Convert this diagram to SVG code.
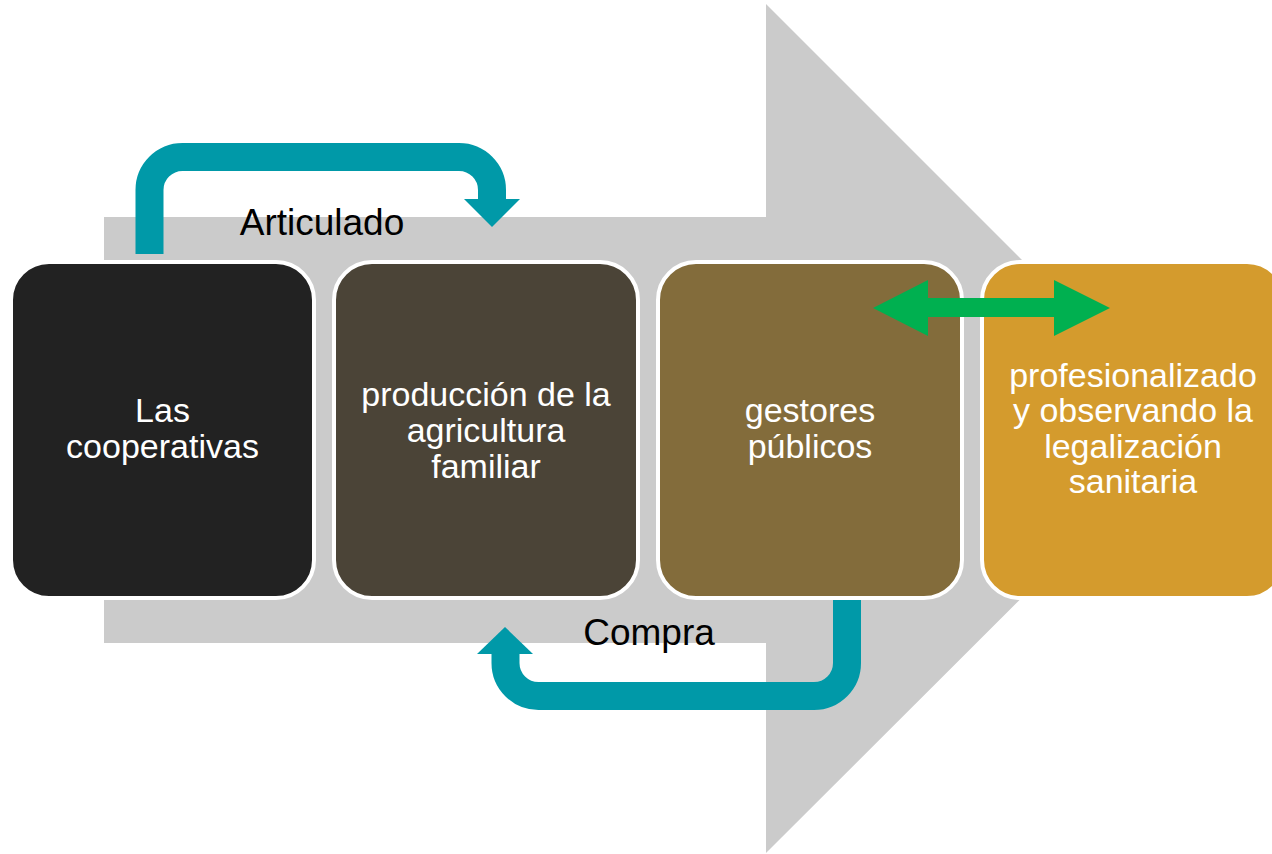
<svg xmlns="http://www.w3.org/2000/svg" width="1272" height="854" viewBox="0 0 1272 854">
<style>
.box{stroke:#fff;stroke-width:4}
.t{font-family:"Liberation Sans",Arial,sans-serif;font-size:34px;fill:#fff;text-anchor:middle}
.lbl{font-family:"Liberation Sans",Arial,sans-serif;font-size:37px;fill:#000;text-anchor:middle}
.teal{fill:none;stroke:#0099A8;stroke-width:28}
</style>
<rect width="1272" height="854" fill="#fff"/>
<g id="background-arrow">
<polygon points="104,217 766,217 766,4 1191,429 766,853 766,643 104,643" fill="#CBCBCB"/>
</g>
<g id="connectors">
<path class="teal" d="M149.5,254 V190 A33,33 0 0 1 182.5,157 H459 A33,33 0 0 1 492,190 V200"/>
<polygon points="464,199 520,199 492,227" fill="#0099A8"/>
<path class="teal" d="M847,592 V663 A33,33 0 0 1 814,696 H538.5 A33,33 0 0 1 505.5,663 V653"/>
<polygon points="477,654 533,654 505,627" fill="#0099A8"/>
</g>
<g id="labels">
<text class="lbl" x="322" y="235">Articulado</text>
<text class="lbl" x="649" y="645">Compra</text>
</g>
<g id="node1">
<rect class="box" x="11" y="262" width="303" height="336" rx="38" fill="#222222"/>
<text class="t" x="162.5" y="422">Las</text>
<text class="t" x="162.5" y="458">cooperativas</text>
</g>
<g id="node2">
<rect class="box" x="334" y="262" width="304" height="336" rx="38" fill="#4B4437"/>
<text class="t" x="486" y="406">producción de la</text>
<text class="t" x="486" y="442">agricultura</text>
<text class="t" x="486" y="478">familiar</text>
</g>
<g id="node3">
<rect class="box" x="658" y="262" width="304" height="336" rx="38" fill="#836C3B"/>
<text class="t" x="810" y="422">gestores</text>
<text class="t" x="810" y="458">públicos</text>
</g>
<g id="node4">
<rect class="box" x="982" y="262" width="303" height="336" rx="38" fill="#D49B2D"/>
<text class="t" x="1133" y="387">profesionalizado</text>
<text class="t" x="1133" y="422">y observando la</text>
<text class="t" x="1133" y="458">legalización</text>
<text class="t" x="1133" y="493">sanitaria</text>
</g>
<g id="double-arrow">
<polygon points="873,308 928,280 928,298 1054,298 1054,280 1110,308 1054,336 1054,317 928,317 928,336" fill="#00B050"/>
</g>
</svg>
